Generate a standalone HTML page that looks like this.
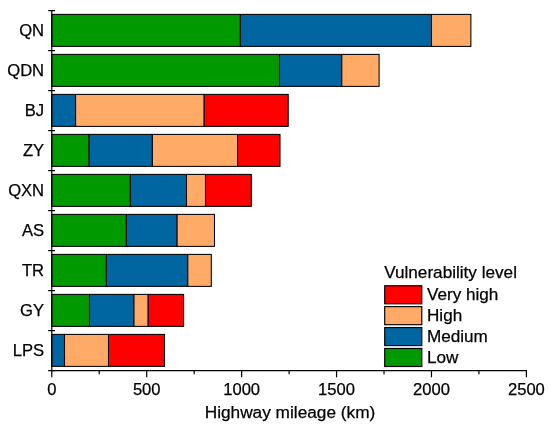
<!DOCTYPE html>
<html><head><meta charset="utf-8"><title>Highway mileage by vulnerability level</title>
<style>html,body{margin:0;padding:0;background:#fff}svg{display:block;will-change:transform}text{font-family:"Liberation Sans",Arial,Helvetica,sans-serif;fill:#000;stroke:#000;stroke-width:.25px}</style></head><body>
<svg width="550" height="429" viewBox="0 0 550 429">
<rect width="550" height="429" fill="#fff"/>
<g stroke="#000" stroke-width="1.05">
<rect x="51.80" y="14.40" width="188.60" height="32.0" fill="#009900"/>
<rect x="240.40" y="14.40" width="191.10" height="32.0" fill="#0066a1"/>
<rect x="431.50" y="14.40" width="39.40" height="32.0" fill="#ffaa66"/>
<rect x="51.80" y="54.40" width="227.70" height="32.0" fill="#009900"/>
<rect x="279.50" y="54.40" width="62.30" height="32.0" fill="#0066a1"/>
<rect x="341.80" y="54.40" width="37.30" height="32.0" fill="#ffaa66"/>
<rect x="51.80" y="94.40" width="23.80" height="32.0" fill="#0066a1"/>
<rect x="75.60" y="94.40" width="128.60" height="32.0" fill="#ffaa66"/>
<rect x="204.20" y="94.40" width="84.00" height="32.0" fill="#ff0000"/>
<rect x="51.80" y="134.40" width="37.30" height="32.0" fill="#009900"/>
<rect x="89.10" y="134.40" width="63.30" height="32.0" fill="#0066a1"/>
<rect x="152.40" y="134.40" width="85.20" height="32.0" fill="#ffaa66"/>
<rect x="237.60" y="134.40" width="42.40" height="32.0" fill="#ff0000"/>
<rect x="51.80" y="174.40" width="78.60" height="32.0" fill="#009900"/>
<rect x="130.40" y="174.40" width="56.10" height="32.0" fill="#0066a1"/>
<rect x="186.50" y="174.40" width="19.00" height="32.0" fill="#ffaa66"/>
<rect x="205.50" y="174.40" width="45.80" height="32.0" fill="#ff0000"/>
<rect x="51.80" y="214.40" width="74.60" height="32.0" fill="#009900"/>
<rect x="126.40" y="214.40" width="50.70" height="32.0" fill="#0066a1"/>
<rect x="177.10" y="214.40" width="37.40" height="32.0" fill="#ffaa66"/>
<rect x="51.80" y="254.40" width="54.60" height="32.0" fill="#009900"/>
<rect x="106.40" y="254.40" width="81.40" height="32.0" fill="#0066a1"/>
<rect x="187.80" y="254.40" width="23.50" height="32.0" fill="#ffaa66"/>
<rect x="51.80" y="294.40" width="37.70" height="32.0" fill="#009900"/>
<rect x="89.50" y="294.40" width="44.50" height="32.0" fill="#0066a1"/>
<rect x="134.00" y="294.40" width="14.20" height="32.0" fill="#ffaa66"/>
<rect x="148.20" y="294.40" width="35.40" height="32.0" fill="#ff0000"/>
<rect x="51.80" y="334.40" width="12.70" height="32.0" fill="#0066a1"/>
<rect x="64.50" y="334.40" width="44.00" height="32.0" fill="#ffaa66"/>
<rect x="108.50" y="334.40" width="56.00" height="32.0" fill="#ff0000"/>
</g>
<g stroke="#000" stroke-width="1.2" fill="none">
<path d="M51.8 10.1 V370.7 H527.0"/>
<path d="M48.2 10.70H55 M48.2 50.70H55 M48.2 90.70H55 M48.2 130.70H55 M48.2 170.70H55 M48.2 210.70H55 M48.2 250.70H55 M48.2 290.70H55 M48.2 330.70H55 M48.2 370.70H55 "/>
<path d="M51.80 370.7V377.2 M99.26 370.7V374.2 M146.72 370.7V377.2 M194.18 370.7V374.2 M241.64 370.7V377.2 M289.10 370.7V374.2 M336.56 370.7V377.2 M384.02 370.7V374.2 M431.48 370.7V377.2 M478.94 370.7V374.2 M526.40 370.7V377.2 "/>
</g>
<g font-size="16.6" text-anchor="end">
<text x="44.1" y="35.50">QN</text>
<text x="44.1" y="75.50">QDN</text>
<text x="44.1" y="115.50">BJ</text>
<text x="44.1" y="155.50">ZY</text>
<text x="44.1" y="195.50">QXN</text>
<text x="44.1" y="235.50">AS</text>
<text x="44.1" y="275.50">TR</text>
<text x="44.1" y="315.50">GY</text>
<text x="44.1" y="355.50">LPS</text>
</g>
<g font-size="16.6" text-anchor="middle">
<text x="51.80" y="395.2">0</text>
<text x="146.72" y="395.2">500</text>
<text x="241.64" y="395.2">1000</text>
<text x="336.56" y="395.2">1500</text>
<text x="431.48" y="395.2">2000</text>
<text x="526.40" y="395.2">2500</text>
</g>
<g font-size="17.25" text-anchor="middle">
<text x="290" y="418.2">Highway mileage (km)</text>
</g>
<g font-size="17.25">
<text x="384.2" y="278.4" font-size="17.15">Vulnerability level</text>
<rect x="384.7" y="285.75" width="37.1" height="18.05" fill="#ff0000" stroke="#000" stroke-width="1.15"/>
<text x="427.0" y="300.30" font-size="17.1">Very high</text>
<rect x="384.7" y="306.65" width="37.1" height="18.05" fill="#ffaa66" stroke="#000" stroke-width="1.15"/>
<text x="427.0" y="321.20" font-size="17.1">High</text>
<rect x="384.7" y="327.55" width="37.1" height="18.05" fill="#0066a1" stroke="#000" stroke-width="1.15"/>
<text x="427.0" y="342.10" font-size="17.1">Medium</text>
<rect x="384.7" y="348.45" width="37.1" height="18.05" fill="#009900" stroke="#000" stroke-width="1.15"/>
<text x="427.0" y="363.00" font-size="17.1">Low</text>
</g>
</svg></body></html>
